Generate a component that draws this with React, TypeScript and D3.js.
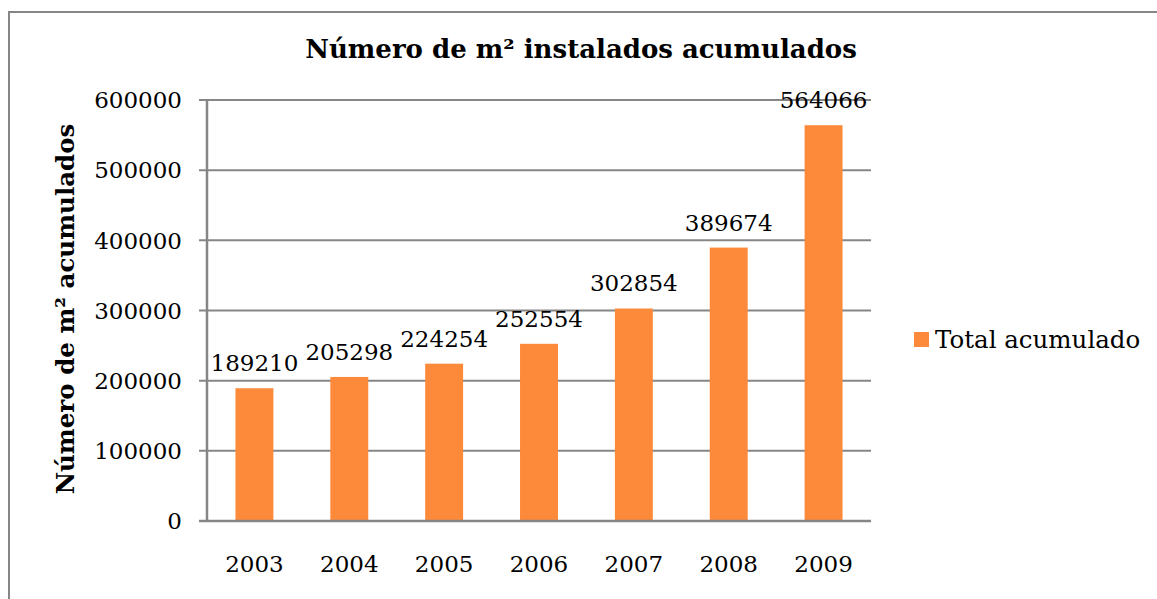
import React, { useEffect, useRef } from 'react';
import * as d3 from 'd3';

const years = ['2003', '2004', '2005', '2006', '2007', '2008', '2009'];
const totals = [189210, 205298, 224254, 252554, 302854, 389674, 564066];
const yTicks = [0, 100000, 200000, 300000, 400000, 500000, 600000];
const seriesName = 'Total acumulado';
const chartTitle = 'Número de m² instalados acumulados';
const yTitle = 'Número de m² acumulados';

const FONT = '"DejaVu Serif", serif';

export default function App() {
  const ref = useRef<SVGSVGElement>(null);

  useEffect(() => {
    const svg = d3.select(ref.current);
    svg.selectAll('*').remove();

    const width = 1157;
    const height = 599;
    const left = 207, right = 871, top = 100, bottom = 521;

    // outer frame (only top and left edges visible in the page)
    svg.append('path')
      .attr('d', `M9,${height} L9,12 L${width},12`)
      .attr('fill', 'none')
      .attr('stroke', '#868686')
      .attr('stroke-width', 2);

    const x = d3.scaleBand<string>()
      .domain(years)
      .range([left, right])
      .paddingInner(0.6)
      .paddingOuter(0.3);

    const y = d3.scaleLinear()
      .domain([0, 600000])
      .range([bottom, top]);

    // gridlines
    svg.append('g')
      .selectAll('line')
      .data(yTicks)
      .enter()
      .append('line')
      .attr('x1', left - 8)
      .attr('x2', right)
      .attr('y1', d => y(d))
      .attr('y2', d => y(d))
      .attr('stroke', '#868686')
      .attr('stroke-width', 2);

    // y tick labels
    svg.append('g')
      .selectAll('text')
      .data(yTicks)
      .enter()
      .append('text')
      .attr('x', 182)
      .attr('y', d => y(d))
      .attr('dy', '0.36em')
      .attr('text-anchor', 'end')
      .style('font-family', FONT)
      .style('font-size', '23px')
      .attr('fill', '#000')
      .text(d => String(d));

    // bars
    svg.append('g')
      .selectAll('rect')
      .data(totals)
      .enter()
      .append('rect')
      .attr('x', (d, i) => x(years[i])!)
      .attr('y', d => y(d))
      .attr('width', x.bandwidth())
      .attr('height', d => y(0) - y(d))
      .attr('fill', '#fd8a3a');

    // value labels
    svg.append('g')
      .selectAll('text')
      .data(totals)
      .enter()
      .append('text')
      .attr('x', (d, i) => x(years[i])! + x.bandwidth() / 2)
      .attr('y', d => y(d) - 17)
      .attr('text-anchor', 'middle')
      .style('font-family', FONT)
      .style('font-size', '23px')
      .attr('fill', '#000')
      .text(d => String(d));

    // axes lines
    svg.append('line')
      .attr('x1', left).attr('x2', left)
      .attr('y1', top).attr('y2', bottom)
      .attr('stroke', '#868686').attr('stroke-width', 2.5);
    svg.append('line')
      .attr('x1', left - 8).attr('x2', right)
      .attr('y1', bottom).attr('y2', bottom)
      .attr('stroke', '#868686').attr('stroke-width', 2.5);

    // x labels
    svg.append('g')
      .selectAll('text')
      .data(years)
      .enter()
      .append('text')
      .attr('x', d => x(d)! + x.bandwidth() / 2)
      .attr('y', 572)
      .attr('text-anchor', 'middle')
      .style('font-family', FONT)
      .style('font-size', '23px')
      .attr('fill', '#000')
      .text(d => d);

    // title
    svg.append('text')
      .attr('x', 581)
      .attr('y', 58)
      .attr('text-anchor', 'middle')
      .style('font-family', FONT)
      .style('font-size', '26px')
      .style('font-weight', 'bold')
      .attr('fill', '#000')
      .text(chartTitle);

    // y axis title
    svg.append('text')
      .attr('transform', 'translate(74,309) rotate(-90)')
      .attr('text-anchor', 'middle')
      .style('font-family', FONT)
      .style('font-size', '24.5px')
      .style('font-weight', 'bold')
      .attr('fill', '#000')
      .text(yTitle);

    // legend
    svg.append('rect')
      .attr('x', 914).attr('y', 332)
      .attr('width', 15).attr('height', 15)
      .attr('fill', '#fd8a3a');
    svg.append('text')
      .attr('x', 935)
      .attr('y', 348)
      .style('font-family', FONT)
      .style('font-size', '24.5px')
      .attr('fill', '#000')
      .text(seriesName);
  }, []);

  return (
    <svg
      ref={ref}
      width={1157}
      height={599}
      style={{ position: 'absolute', left: 0, top: 0, background: '#fff' }}
    />
  );
}
